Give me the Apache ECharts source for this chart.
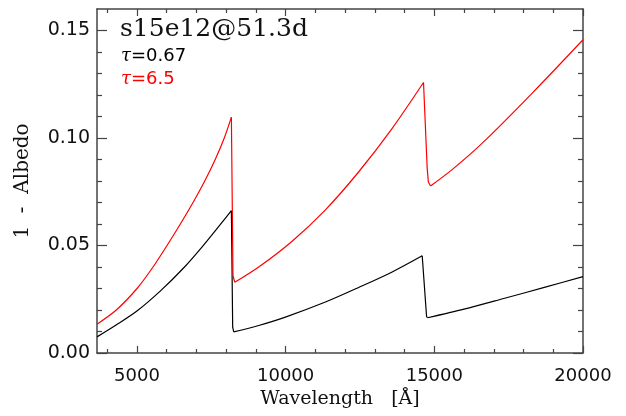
<!DOCTYPE html>
<html>
<head>
<meta charset="utf-8">
<script src="https://cdn.jsdelivr.net/npm/echarts@6/dist/echarts.min.js"></script>
<style>html,body{margin:0;padding:0;background:#fff;}#c{width:626px;height:416px;}</style>
</head>
<body>
<div id="c"></div>
<script>
// Wavelength [Å] / 1 - Albedo data.
// Smooth rising branches (null = gap between branches) and the steep drops between them.
const tau067Rise = [
  [3657, 0.0075], [4300, 0.0130], [5000, 0.0195], [5800, 0.0290], [6600, 0.0400],
  [7200, 0.0495], [7800, 0.0597], [8176, 0.0662], [8200, null],
  [8254, 0.0098], [9095, 0.0128], [9993, 0.0167], [11339, 0.0237], [12460, 0.0305],
  [13584, 0.0377], [14593, 0.0452], [14700, null],
  [14770, 0.0164], [16000, 0.0204], [17397, 0.0256], [18700, 0.0305], [20000, 0.0355]
];
const tau067Drop = [
  [8176, 0.0662], [8220, 0.0120], [8254, 0.0098], [8300, null],
  [14593, 0.0452], [14740, 0.0170], [14770, 0.0164]
];
const tau65Rise = [
  [3657, 0.0134], [4306, 0.0200], [5003, 0.0300], [5541, 0.0400], [6012, 0.0500],
  [6460, 0.0600], [6887, 0.0700], [7280, 0.0800], [7648, 0.0905], [7950, 0.1005],
  [8176, 0.1097], [8200, null],
  [8290, 0.0329], [9095, 0.0400], [10219, 0.0520], [11339, 0.0666], [12460, 0.0843],
  [13584, 0.1045], [14637, 0.1258], [14700, null],
  [14873, 0.0777], [15600, 0.0853], [16612, 0.0976], [18294, 0.1209], [20000, 0.1457]
];
const tau65Drop = [
  [8176, 0.1097], [8230, 0.0360], [8290, 0.0329], [8300, null],
  [14637, 0.1258], [14760, 0.0860], [14800, 0.0795], [14873, 0.0777]
];
const xMajorTicks = [5000, 10000, 15000, 20000];
const xMinorTicks = [4000, 6000, 7000, 8000, 9000, 11000, 12000, 13000, 14000, 16000, 17000, 18000, 19000];
const yMajorTicks = [0, 0.05, 0.10, 0.15];
const yMinorTicks = [0.01, 0.02, 0.03, 0.04, 0.06, 0.07, 0.08, 0.09, 0.11, 0.12, 0.13, 0.14];
const xRange = [3657, 20000];
const yRange = [0, 0.16];
const titleText = 's15e12@51.3d';
const legendBlack = '0.67';
const legendRed = '6.5';

const AX = '#444';
const numFont = 'DejaVu Sans';
const serif = 'DejaVu Serif';

function xAx(pos, ticks, len, withLabel, withLine) {
  return {
    type: 'value', position: pos, min: xRange[0], max: xRange[1],
    axisLine: { show: withLine, onZero: false, lineStyle: { color: AX, width: 1.5 } },
    axisTick: { show: true, inside: true, length: len, customValues: ticks, lineStyle: { color: AX, width: 1.2 } },
    axisLabel: withLabel ? { show: true, customValues: ticks, margin: 14, color: '#111', fontFamily: numFont, fontSize: 18,
      formatter: v => String(Math.round(v)) } : { show: false },
    splitLine: { show: false }
  };
}
function yAx(pos, ticks, len, withLabel, withLine) {
  return {
    type: 'value', position: pos, min: yRange[0], max: yRange[1],
    axisLine: { show: withLine, onZero: false, lineStyle: { color: AX, width: 1.5 } },
    axisTick: { show: true, inside: true, length: len, customValues: ticks, lineStyle: { color: AX, width: 1.2 } },
    axisLabel: withLabel ? { show: true, customValues: ticks, margin: 7, color: '#111', fontFamily: numFont, fontSize: 19,
      formatter: v => v.toFixed(2) } : { show: false },
    splitLine: { show: false }
  };
}

const xAxes = [
  xAx('bottom', xMajorTicks, 7, true, true),
  xAx('bottom', xMinorTicks, 4, false, false),
  xAx('top', xMajorTicks, 7, false, true),
  xAx('top', xMinorTicks, 4, false, false)
];
Object.assign(xAxes[0], { name: 'Wavelength   [Å]', nameLocation: 'middle', nameGap: 24,
  nameTextStyle: { fontFamily: serif, fontSize: 19, color: '#111' } });
const yAxes = [
  yAx('left', yMajorTicks, 10, true, true),
  yAx('left', yMinorTicks, 5, false, false),
  yAx('right', yMajorTicks, 10, false, true),
  yAx('right', yMinorTicks, 5, false, false)
];
Object.assign(yAxes[0], { name: '1  -  Albedo', nameLocation: 'middle', nameGap: 64,
  nameTextStyle: { fontFamily: serif, fontSize: 20, color: '#111' } });

function line(data, color, smooth) {
  return { type: 'line', xAxisIndex: 0, yAxisIndex: 0, data: data, showSymbol: false, smooth: smooth,
    connectNulls: false, lineStyle: { color: color, width: 1.2 }, itemStyle: { color: color } };
}

const chart = echarts.init(document.getElementById('c'), null, { renderer: 'canvas' });
chart.setOption({
  backgroundColor: '#fff',
  animation: false,
  grid: { left: 97, right: 43, top: 9, bottom: 63, containLabel: false },
  xAxis: xAxes,
  yAxis: yAxes,
  series: [
    line(tau067Rise, '#000', 0.3),
    line(tau067Drop, '#000', false),
    line(tau65Rise, '#ff0000', 0.3),
    line(tau65Drop, '#ff0000', false)
  ],
  graphic: [
    { type: 'text', left: 120, top: 17, style: { text: titleText, font: '25px "DejaVu Serif"', fill: '#111' } },
    { type: 'text', left: 121, top: 47, style: { text: '{t|τ}=' + legendBlack, font: '18px "DejaVu Sans"', fill: '#000',
      rich: { t: { fontFamily: serif, fontStyle: 'italic', fontSize: 18, fill: '#000' } } } },
    { type: 'text', left: 121, top: 70, style: { text: '{t|τ}=' + legendRed, font: '18px "DejaVu Sans"', fill: '#ff0000',
      rich: { t: { fontFamily: serif, fontStyle: 'italic', fontSize: 18, fill: '#ff0000' } } } }
  ]
});
</script>
</body>
</html>
